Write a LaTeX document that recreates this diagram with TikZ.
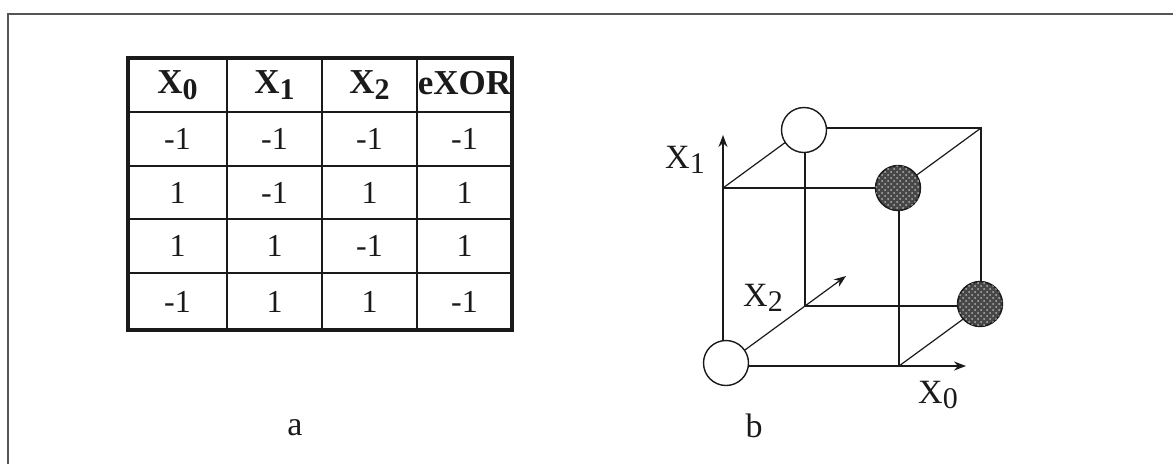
\documentclass[tikz,border=0pt]{standalone}
\usepackage{fontspec}
\setmainfont{Liberation Serif}
\usetikzlibrary{arrows.meta,positioning,patterns}
\definecolor{ink}{HTML}{1A1A1A}
\definecolor{frame}{HTML}{555555}
\tikzset{
  grid/.style={draw=ink, line width=0.7pt},
  rim/.style={draw=ink, line width=1.6pt},
  hdr/.style={text=ink, font=\bfseries\fontsize{17.5}{19}\selectfont},
  cell/.style={text=ink, font=\fontsize{16}{18}\selectfont},
  lab/.style={text=ink, font=\fontsize{17}{19}\selectfont},
  edge/.style={draw=ink, line width=0.6pt},
  axis/.style={-{Stealth[length=6pt,width=4.5pt]}, draw=ink, line width=0.6pt},
  open/.style={circle, draw=ink, fill=white, line width=0.7pt, minimum size=22.5pt, inner sep=0pt},
  full/.style={circle, draw=ink, fill=black!72, line width=0.7pt, minimum size=22.5pt, inner sep=0pt,
    postaction={pattern=crosshatch dots, pattern color=white!70!black}},
}
\newcommand{\lowsub}[1]{\raisebox{-0.35ex}{\fontsize{15}{17}\selectfont #1}}

\begin{document}
\begin{tikzpicture}[x=0.5pt, y=-0.5pt]
  \useasboundingbox (0,0) rectangle (1173,463);
  % outer frame
  \draw[frame, line width=1pt] (8,470) -- (8,14) -- (1180,14);

  % truth table
  \foreach \y in {166,219,273} {\draw[grid] (128,\y) -- (512,\y);}
  \foreach \x in {227,322,417} {\draw[grid] (\x,58) -- (\x,330);}
  \draw[grid, line width=1.1pt] (128,112) -- (512,112);
  \draw[rim] (128,58) rectangle (512,330);
  \node[hdr] (h0) at (177.5,85) {X\lowsub{0}};
  \node[hdr] (h1) at (274.5,85) {X\lowsub{1}};
  \node[hdr] (h2) at (369.5,85) {X\lowsub{2}};
  \node[hdr] (h3) at (464.5,83) {eXOR};
  \foreach \r/\a/\b/\c/\d/\y in {1/-1/-1/-1/-1/139, 2/1/-1/1/1/192.5, 3/1/1/-1/1/246, 4/-1/1/1/-1/301.5} {
    \node[cell] (r\r a) at (177.5,\y) {\a};
    \node[cell] (r\r b) at (274.5,\y) {\b};
    \node[cell] (r\r c) at (369.5,\y) {\c};
    \node[cell] (r\r d) at (464.5,\y) {\d};
  }
  \node[lab] (capa) at (295,428) {a};

  % cube
  \coordinate (o) at (723,366);
  \coordinate (ftl) at (723,188);
  \coordinate (ftr) at (899,188);
  \coordinate (fbr) at (899,366);
  \coordinate (btl) at (805,128);
  \coordinate (btr) at (981,128);
  \coordinate (bbr) at (981,306);
  \coordinate (bbl) at (805,306);
  \coordinate (tip0) at (966,366);
  \coordinate (tip1) at (723,135);
  \coordinate (tip2) at (846,276);
  \draw[edge] (ftl) -- (ftr) -- (fbr);
  \draw[edge] (btl) -- (btr) -- (bbr) -- (bbl) -- (btl);
  \draw[edge] (ftl) -- (btl);
  \draw[edge] (ftr) -- (btr);
  \draw[edge] (fbr) -- (bbr);
  \draw[axis] (o) -- (tip0);
  \draw[axis] (o) -- (tip1);
  \draw[axis] (o) -- (tip2);
  \node[open] (p000) at (726,363) {};
  \node[open] (p010) at (804,130) {};
  \node[full] (p110) at (898,188) {};
  \node[full] (p101) at (980,304) {};
  \node[lab] (lx1) at (685,160) {X\lowsub{1}};
  \node[lab] (lx2) at (763,298) {X\lowsub{2}};
  \node[lab] (lx0) at (938,395) {X\lowsub{0}};
  \node[lab] (capb) at (754,426) {b};
\end{tikzpicture}
\end{document}
